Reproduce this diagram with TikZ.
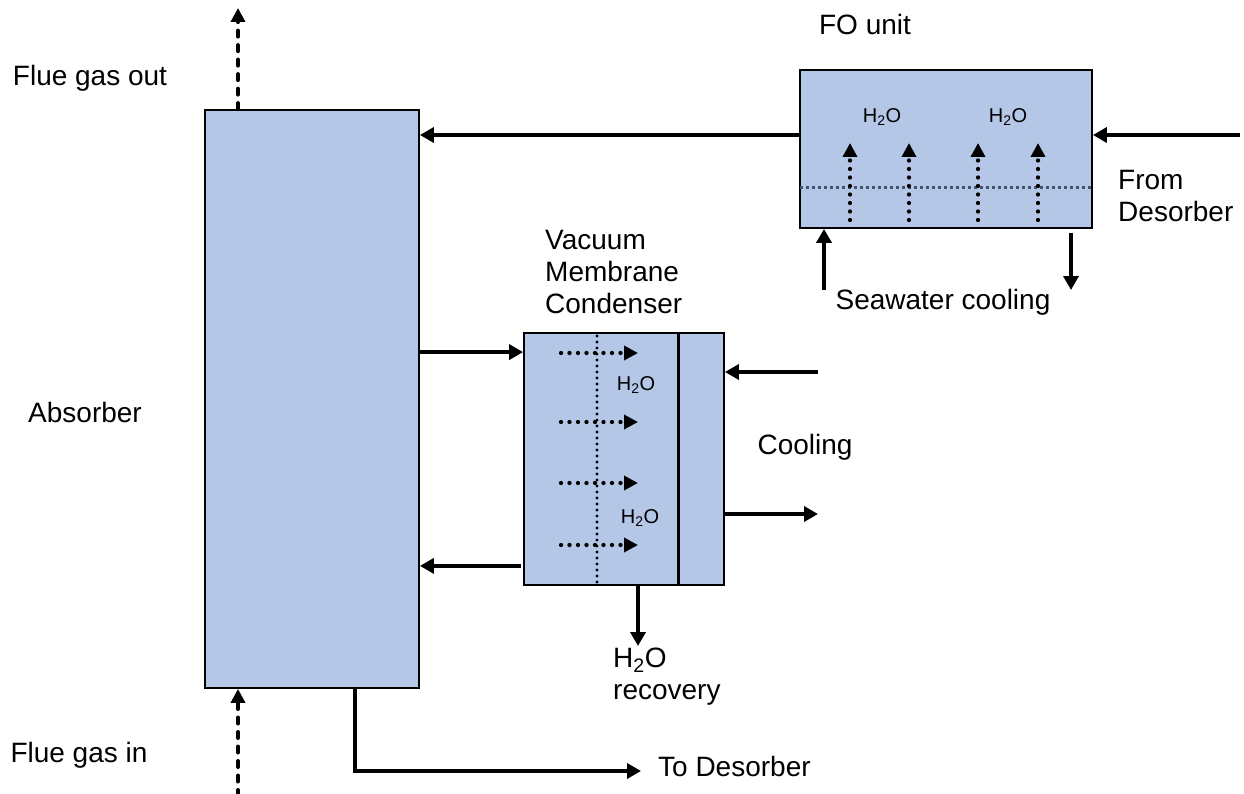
\documentclass[tikz,border=0pt]{standalone}
\usepackage{fontspec}
\setmainfont{Liberation Sans}
\usetikzlibrary{arrows.meta,positioning,calc}
\definecolor{unitfill}{RGB}{180,199,231}
\definecolor{sepcolor}{RGB}{68,84,106}

\begin{document}
\begin{tikzpicture}[x=1pt,y=-1pt,
    unitbox/.style={draw=black, line width=1.8pt, fill=unitfill, inner sep=0pt},
    flow/.style={line width=3.8pt, -{Triangle[length=14pt,width=15pt]}},
    gasflow/.style={line width=4pt, line cap=round, dash pattern=on 6pt off 8.5pt,
                    -{Triangle[length=14pt,width=14pt]}},
    permflow/.style={line width=4.3pt, line cap=round, dash pattern=on 0pt off 8.5pt,
                     -{Triangle[length=14pt,width=14pt]}},
    txt/.style={font=\fontsize{28}{32}\selectfont, align=left, inner sep=0pt},
    smalltxt/.style={font=\fontsize{20}{24}\selectfont, inner sep=0pt}]
    \useasboundingbox (0,0) rectangle (1244,794);
    % process units
    \node[unitbox, minimum width=214pt, minimum height=578pt] (absorber) at (312,399) {};
    \node[unitbox, minimum width=292pt, minimum height=158pt] (fo) at (946,149) {};
    \node[unitbox, minimum width=200pt, minimum height=252pt] (vmc) at (624,459) {};
    % FO membrane and water transport
    \draw[sepcolor, line width=3pt, dash pattern=on 3pt off 3pt]
      ($(fo.west)+(1,39)$) -- ($(fo.east)+(-1,39)$);
    \foreach \x in {850,909,978,1038}
      \draw[permflow] (\x,220) -- (\x,143);
    \foreach \x/\n in {882/1,1008/2}
      \node[smalltxt] (foh2o\n) at (\x,117) {H\textsubscript{2}O};
    % VMC membrane, cooling wall and water transport
    \draw[line width=3.3pt, line cap=round, dash pattern=on 0pt off 6pt]
      (597,336) -- (597,582);
    \draw[line width=3pt] (678,333) -- (678,585);
    \foreach \y in {353,422,483,545}
      \draw[permflow] (561,\y) -- (638,\y);
    \node[smalltxt] (vmch2o1) at (636,385) {H\textsubscript{2}O};
    \node[smalltxt] (vmch2o2) at (640,518) {H\textsubscript{2}O};
    % free ends of the streams
    \coordinate (gasout) at (238,8);
    \coordinate (gasbot) at (238,796);
    \coordinate (fromdes) at (1240,135);
    \coordinate (swin) at (824,290);
    \coordinate (swout) at (1071,290);
    \coordinate (vmcin) at ($(vmc.north west)+(0,20)$);
    \coordinate (vmcout) at ($(vmc.south west)+(-2,-20)$);
    \coordinate (coolin) at (818,372);
    \coordinate (coolout) at (818,514);
    \coordinate (recov) at (638,646);
    \coordinate (bottap) at ($(absorber.south)+(43,0)$);
    \coordinate (todes) at (641,771);
    % streams
    \draw[gasflow] (gasout |- absorber.north) -- (gasout);
    \draw[gasflow] (gasbot) -- (gasbot |- absorber.south);
    \draw[flow] (fromdes) -- (fromdes -| fo.east);
    \draw[flow] (fromdes -| fo.west) -- (fromdes -| absorber.east);
    \draw[flow] (swin) -- (swin |- fo.south);
    \draw[flow] ($(swout |- fo.south)+(0,4)$) -- (swout);
    \draw[flow] (vmcin -| absorber.east) -- (vmcin);
    \draw[flow] (vmcout) -- (vmcout -| absorber.east);
    \draw[flow] (coolin) -- (coolin -| vmc.east);
    \draw[flow] (coolout -| vmc.east) -- (coolout);
    \draw[flow] (recov |- vmc.south) -- (recov);
    \draw[flow] (bottap) |- (todes);
    % labels
    \node[txt] (outtxt) at (90,78) {Flue gas out};
    \node[txt] (abstxt) at (85,412) {Absorber};
    \node[txt] (intxt) at (79,755) {Flue gas in};
    \node[txt] (fotxt) at (865,24) {FO unit};
    \node[txt, anchor=west] (destxt) at (1118,196) {From\\Desorber};
    \node[txt, anchor=west] (vmctxt) at (545,272) {Vacuum\\Membrane\\Condenser};
    \node[txt] (cooltxt) at (805,447) {Cooling};
    \node[txt] (seatxt) at (943,302) {Seawater cooling};
    \node[txt, anchor=west] (rectxt) at (613,677) {H\textsubscript{2}O\\recovery};
    \node[txt, anchor=west] (todestxt) at (658,766) {To Desorber};
\end{tikzpicture}
\end{document}
